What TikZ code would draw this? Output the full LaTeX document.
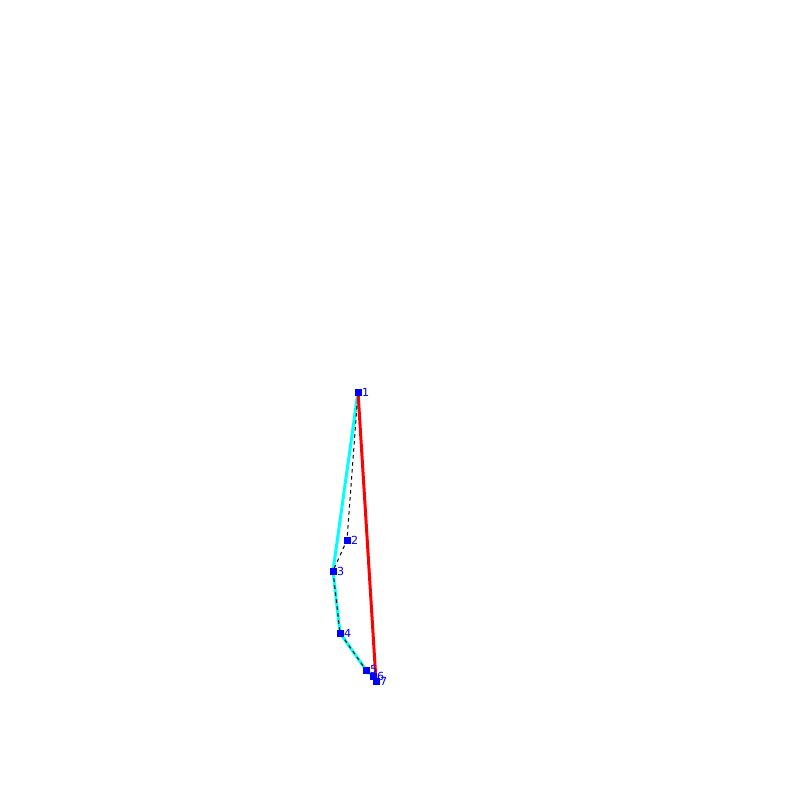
\documentclass[tikz,border=0pt]{standalone}
\usepackage{fontspec}
\setmainfont{DejaVu Sans}
\definecolor{aqua}{RGB}{0,255,255}
\definecolor{pureblue}{RGB}{0,0,255}
\definecolor{purered}{RGB}{255,0,0}
\begin{document}
\begin{tikzpicture}[x=0.3mm,y=-0.3mm,
  pt/.style={fill=pureblue, draw=none, minimum size=2.1mm, inner sep=0pt, outer sep=0pt},
  lbl/.style={text=pureblue, font=\fontsize{9.5}{10}\selectfont, inner sep=0pt, anchor=west, xshift=1.2mm},
  hull/.style={aqua, line width=0.9mm},
  chain/.style={black, dashed, line width=0.3mm},
  seg/.style={purered, line width=0.9mm}]
\useasboundingbox (0,0) rectangle (800,800);
\coordinate (p1) at (358,392);
\coordinate (p2) at (347,540);
\coordinate (p3) at (333,571);
\coordinate (p4) at (340,633);
\coordinate (p5) at (366,670);
\coordinate (p6) at (373,676);
\coordinate (p7) at (376,681);
\draw[hull] (p1) -- (p3) -- (p4) -- (p5) -- (p6) -- (p7);
\draw[chain] (p1) -- (p2) -- (p3) -- (p4) -- (p5) -- (p6) -- (p7);
\draw[seg] (p1) -- (p7);
\foreach \i in {1,...,7} {
  \node[pt] (n\i) at (p\i) {};
  \node[lbl] (l\i) at (p\i) {\i};
}
\end{tikzpicture}
\end{document}
